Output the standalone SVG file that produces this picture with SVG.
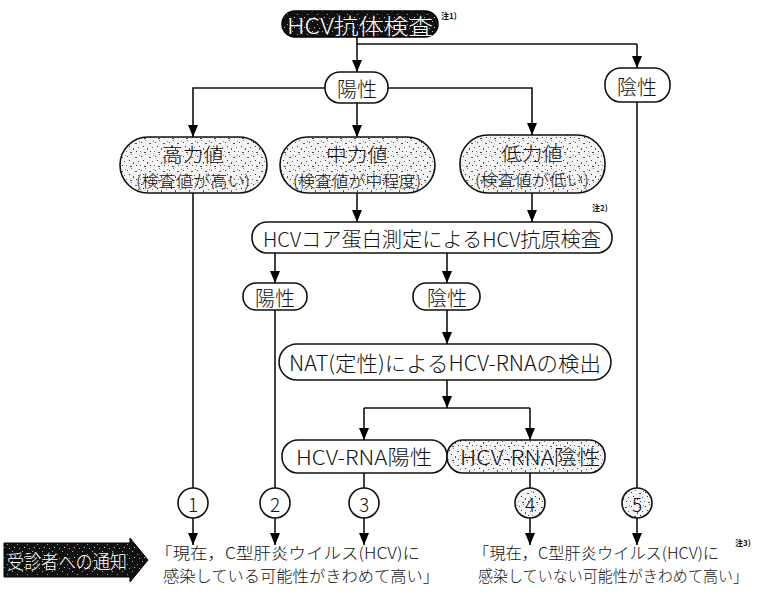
<svg xmlns="http://www.w3.org/2000/svg" width="765" height="599" viewBox="0 0 765 599">
<defs>
<pattern id="spk" width="14" height="14" patternUnits="userSpaceOnUse">
<rect width="14" height="14" fill="#f4f4f4"/>
<rect x="1" y="2" width="1" height="1" fill="#444"/>
<rect x="5" y="0" width="1" height="1" fill="#777"/>
<rect x="9" y="3" width="2" height="1" fill="#555"/>
<rect x="3" y="6" width="1" height="1" fill="#333"/>
<rect x="12" y="7" width="1" height="1" fill="#666"/>
<rect x="7" y="8" width="1" height="2" fill="#555"/>
<rect x="0" y="11" width="1" height="1" fill="#777"/>
<rect x="4" y="12" width="2" height="1" fill="#444"/>
<rect x="10" y="11" width="1" height="1" fill="#333"/>
<rect x="13" y="1" width="1" height="1" fill="#888"/>
</pattern>
<pattern id="spkw" width="10" height="10" patternUnits="userSpaceOnUse">
<rect width="10" height="10" fill="#111"/>
<rect x="2" y="1" width="1" height="1" fill="#bbb"/>
<rect x="7" y="4" width="1" height="1" fill="#999"/>
<rect x="4" y="7" width="1" height="1" fill="#ccc"/>
<rect x="9" y="8" width="1" height="1" fill="#aaa"/>
</pattern>
<marker id="ah" viewBox="0 0 12 10" refX="12" refY="5" markerWidth="12" markerHeight="10" markerUnits="userSpaceOnUse" orient="auto">
<path d="M0,0 L12,5 L0,10 z" fill="#000"/>
</marker>
</defs>
<style>
.t{font-family:"Noto Sans CJK JP","Noto Sans",sans-serif;font-weight:300;fill:#111;text-anchor:middle;dominant-baseline:central}
.b{fill:#fff;stroke:#111;stroke-width:1.6}
.s{fill:url(#spk);stroke:#111;stroke-width:1.6}
.c path{fill:none;stroke:#111;stroke-width:1.6}
.a{marker-end:url(#ah)}
.n{font-family:"Noto Sans CJK JP","Noto Sans",sans-serif;font-size:8px;font-weight:bold;fill:#111}
</style>

<g class="c">
<path d="M357,36 V44 H637"/>
<path class="a" d="M637,44 V68"/>
<path class="a" d="M357,44 V72"/>
<path class="a" d="M325,88 H193 V137"/>
<path class="a" d="M388,88 H532 V135"/>
<path class="a" d="M357,103 V137"/>
<path d="M193,193 V488"/>
<path class="a" d="M357,193 V222"/>
<path class="a" d="M532,193 V222"/>
<path class="a" d="M275,253 V283"/>
<path class="a" d="M447,253 V283"/>
<path d="M275,310 V488"/>
<path class="a" d="M447,310 V344"/>
<path class="a" d="M447,380 V408"/>
<path d="M364,408 H530"/>
<path class="a" d="M364,408 V440"/>
<path class="a" d="M530,408 V440"/>
<path d="M364,473 V488"/>
<path d="M530,473 V488"/>
<path d="M637,102 V488"/>
<path class="a" d="M193,518 V545"/>
<path class="a" d="M275,518 V545"/>
<path class="a" d="M364,518 V545"/>
<path class="a" d="M530,518 V545"/>
<path class="a" d="M637,518 V545"/>
</g>

<g id="antibody">
<rect x="282" y="11" width="156" height="26" rx="13" fill="url(#spkw)" stroke="#000" stroke-width="1.5"/>
<text class="t" x="360" y="24" font-size="22" style="fill:#fff" textLength="146" lengthAdjust="spacingAndGlyphs">HCV抗体検査</text>
<text class="n" x="441" y="19">注1)</text>
</g>

<g id="pos1">
<rect class="b" x="325" y="72" width="63" height="31" rx="15"/>
<text class="t" x="357" y="88" font-size="20">陽性</text>
</g>
<g id="neg1">
<rect class="b" x="605" y="68" width="65" height="34" rx="16"/>
<text class="t" x="637" y="86" font-size="20">陰性</text>
</g>

<g id="high">
<rect class="s" x="120" y="137" width="147" height="56" rx="28"/>
<text class="t" x="193" y="153" font-size="19" textLength="62" lengthAdjust="spacingAndGlyphs">高力値</text>
<text class="t" x="193" y="180" font-size="16" textLength="114" lengthAdjust="spacingAndGlyphs">(検査値が高い)</text>
</g>
<g id="mid">
<rect class="s" x="280" y="137" width="155" height="56" rx="28"/>
<text class="t" x="357" y="153" font-size="19" textLength="62" lengthAdjust="spacingAndGlyphs">中力値</text>
<text class="t" x="357" y="180" font-size="16" textLength="128" lengthAdjust="spacingAndGlyphs">(検査値が中程度)</text>
</g>
<g id="low">
<rect class="s" x="460" y="135" width="145" height="58" rx="28"/>
<text class="t" x="532" y="152" font-size="19" textLength="62" lengthAdjust="spacingAndGlyphs">低力値</text>
<text class="t" x="532" y="179" font-size="16" textLength="114" lengthAdjust="spacingAndGlyphs">(検査値が低い)</text>
</g>

<g id="antigen">
<rect class="b" x="252" y="222" width="360" height="31" rx="15"/>
<text class="t" x="432" y="238" font-size="20" textLength="338" lengthAdjust="spacingAndGlyphs">HCVコア蛋白測定によるHCV抗原検査</text>
<text class="n" x="592" y="211">注2)</text>
</g>

<g id="pos2">
<rect class="b" x="243" y="283" width="64" height="27" rx="13"/>
<text class="t" x="275" y="297" font-size="20">陽性</text>
</g>
<g id="neg2">
<rect class="b" x="413" y="283" width="67" height="27" rx="13"/>
<text class="t" x="447" y="297" font-size="20">陰性</text>
</g>

<g id="nat">
<rect class="b" x="279" y="344" width="332" height="36" rx="18"/>
<text class="t" x="445" y="362" font-size="21" textLength="312" lengthAdjust="spacingAndGlyphs">NAT(定性)によるHCV-RNAの検出</text>
</g>

<g id="rnapos">
<rect class="b" x="282" y="440" width="165" height="33" rx="16"/>
<text class="t" x="364" y="456" font-size="20" textLength="136" lengthAdjust="spacingAndGlyphs">HCV-RNA陽性</text>
</g>
<g id="rnaneg">
<rect class="s" x="447" y="440" width="158" height="33" rx="16"/>
<text class="t" x="530" y="456" font-size="20" textLength="140" lengthAdjust="spacingAndGlyphs">HCV-RNA陰性</text>
</g>

<g id="c1"><circle class="b" cx="193" cy="503" r="15"/><text class="t" x="193" y="503" font-size="19">1</text></g>
<g id="c2"><circle class="b" cx="275" cy="503" r="15"/><text class="t" x="275" y="503" font-size="19">2</text></g>
<g id="c3"><circle class="b" cx="364" cy="503" r="15"/><text class="t" x="364" y="503" font-size="19">3</text></g>
<g id="c4"><circle class="s" cx="530" cy="503" r="15"/><text class="t" x="530" y="503" font-size="19">4</text></g>
<g id="c5"><circle class="s" cx="637" cy="503" r="15"/><text class="t" x="637" y="503" font-size="19">5</text></g>

<g id="notice">
<polygon points="4,543 130,543 130,538 148,560 130,582 130,577 4,577" fill="url(#spkw)" stroke="#000" stroke-width="1"/>
<text class="t" x="67" y="560" font-size="19" style="fill:#fff" textLength="120" lengthAdjust="spacingAndGlyphs">受診者への通知</text>
</g>

<g id="msg1">
<text class="t" x="155" y="552" font-size="16" style="text-anchor:start" textLength="265" lengthAdjust="spacingAndGlyphs">「現在，C型肝炎ウイルス(HCV)に</text>
<text class="t" x="163" y="575" font-size="16" style="text-anchor:start" textLength="276" lengthAdjust="spacingAndGlyphs">感染している可能性がきわめて高い」</text>
</g>
<g id="msg2">
<text class="t" x="473" y="552" font-size="16" style="text-anchor:start" textLength="246" lengthAdjust="spacingAndGlyphs">「現在，C型肝炎ウイルス(HCV)に</text>
<text class="t" x="478" y="575" font-size="16" style="text-anchor:start" textLength="270" lengthAdjust="spacingAndGlyphs">感染していない可能性がきわめて高い」</text>
<text class="n" x="735" y="546">注3)</text>
</g>
</svg>
